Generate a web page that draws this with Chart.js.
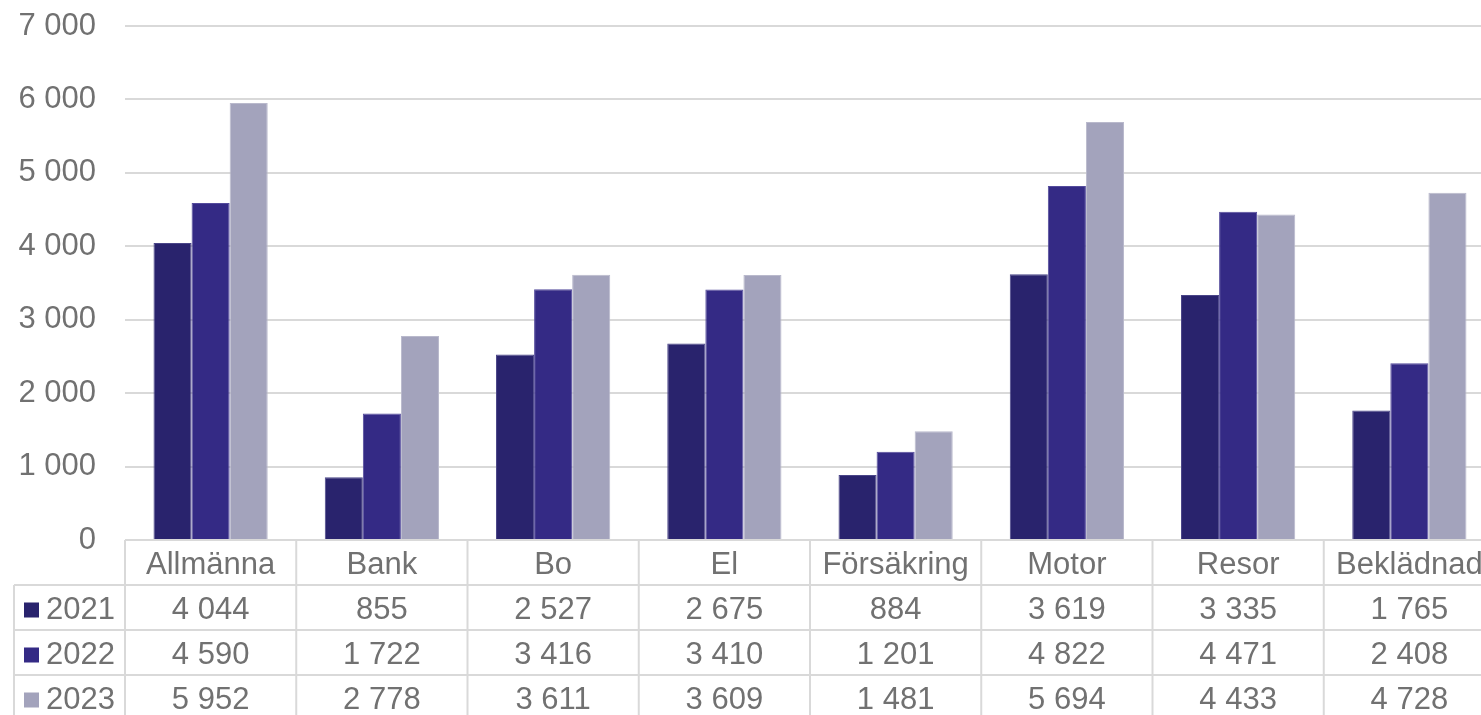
<!DOCTYPE html>
<html>
<head>
<meta charset="utf-8">
<script src="https://cdn.jsdelivr.net/npm/chart.js@4"></script>
<style>
html,body{margin:0;padding:0;background:#fff;overflow:hidden;}
#wrap{position:absolute;left:0;top:0;width:1495px;height:715px;}
</style>
</head>
<body>
<div id="wrap"><canvas id="c" width="1495" height="715"></canvas></div>
<script>
const categories = ["Allmänna","Bank","Bo","El","Försäkring","Motor","Resor","Beklädnad"];
const seriesNames = ["2021","2022","2023"];
const values2021 = [4044, 855, 2527, 2675, 884, 3619, 3335, 1765];
const values2022 = [4590, 1722, 3416, 3410, 1201, 4822, 4471, 2408];
const values2023 = [5952, 2778, 3611, 3609, 1481, 5694, 4433, 4728];
const yTicks = [0, 1000, 2000, 3000, 4000, 5000, 6000, 7000];

const colors = ["#29236d", "#342a85", "#a3a3bc"];
const borderColors = ["#4a4588", "#544b9c", "#b9b9cc"];
const textColor = "#717171";
const lineColor = "#d9d9d9";
const FONT = "Liberation Sans, Arial, sans-serif";
const FS = 31;

function fmt(v){
  return String(v).replace(/\B(?=(\d{3})+(?!\d))/g, " ");
}

const allValues = [values2021, values2022, values2023];

const tablePlugin = {
  id: "dataTable",
  afterDraw(chart){
    const ctx = chart.ctx;
    const xs = chart.scales.x;
    const area = chart.chartArea;
    const n = categories.length;
    const catW = (area.right - area.left) / n;
    const top = area.bottom;
    const rowH = 45;
    const leftX = 14;
    ctx.save();
    ctx.strokeStyle = lineColor;
    ctx.lineWidth = 2;
    ctx.beginPath();
    ctx.moveTo(area.left, top); ctx.lineTo(chart.width, top);
    for (let r = 1; r <= 4; r++){
      const y = top + r * rowH;
      ctx.moveTo(leftX, y); ctx.lineTo(chart.width, y);
    }
    for (let i = 0; i <= n; i++){
      const x = area.left + i * catW;
      ctx.moveTo(x, top); ctx.lineTo(x, chart.height);
    }
    ctx.moveTo(leftX, top + rowH); ctx.lineTo(leftX, chart.height);
    ctx.stroke();

    ctx.fillStyle = textColor;
    ctx.font = FS + "px " + FONT;
    ctx.textAlign = "center";
    ctx.textBaseline = "middle";
    categories.forEach((c, i) => {
      const cx = xs.getPixelForValue(i);
      ctx.fillText(c, cx, top + rowH / 2 + 3);
    });
    allValues.forEach((arr, r) => {
      const cy = top + rowH * (r + 1) + rowH / 2 + 3;
      arr.forEach((v, i) => {
        const cx = xs.getPixelForValue(i);
        ctx.fillStyle = textColor;
        ctx.fillText(fmt(v), cx, cy);
      });
      ctx.fillStyle = colors[r];
      ctx.fillRect(24, cy - 8, 15, 15);
      ctx.fillStyle = textColor;
      ctx.textAlign = "left";
      ctx.fillText(seriesNames[r], 46, cy);
      ctx.textAlign = "center";
    });
    ctx.restore();
  }
};

new Chart(document.getElementById("c"), {
  type: "bar",
  data: {
    labels: categories,
    datasets: allValues.map((arr, i) => ({
      label: seriesNames[i],
      data: arr,
      backgroundColor: colors[i],
      borderColor: borderColors[i],
      borderWidth: 1,
      categoryPercentage: 0.667,
      barPercentage: 1.0
    }))
  },
  options: {
    responsive: false,
    animation: false,
    events: [],
    layout: { padding: { top: 26, bottom: 175, left: 0, right: 0 } },
    plugins: { legend: { display: false }, tooltip: { enabled: false } },
    scales: {
      x: { display: false },
      y: {
        min: 0, max: 7000,
        afterBuildTicks(scale){ scale.ticks = yTicks.map(v => ({ value: v })); },
        afterFit(scale){ scale.width = 125; scale.paddingTop = 0; scale.paddingBottom = 0; },
        border: { display: false },
        grid: { color: lineColor, lineWidth: 2, drawTicks: false },
        ticks: {
          padding: 29,
          color: textColor,
          font: { family: FONT, size: FS },
          callback: (v) => fmt(v)
        }
      }
    }
  },
  plugins: [tablePlugin]
});
</script>
</body>
</html>
